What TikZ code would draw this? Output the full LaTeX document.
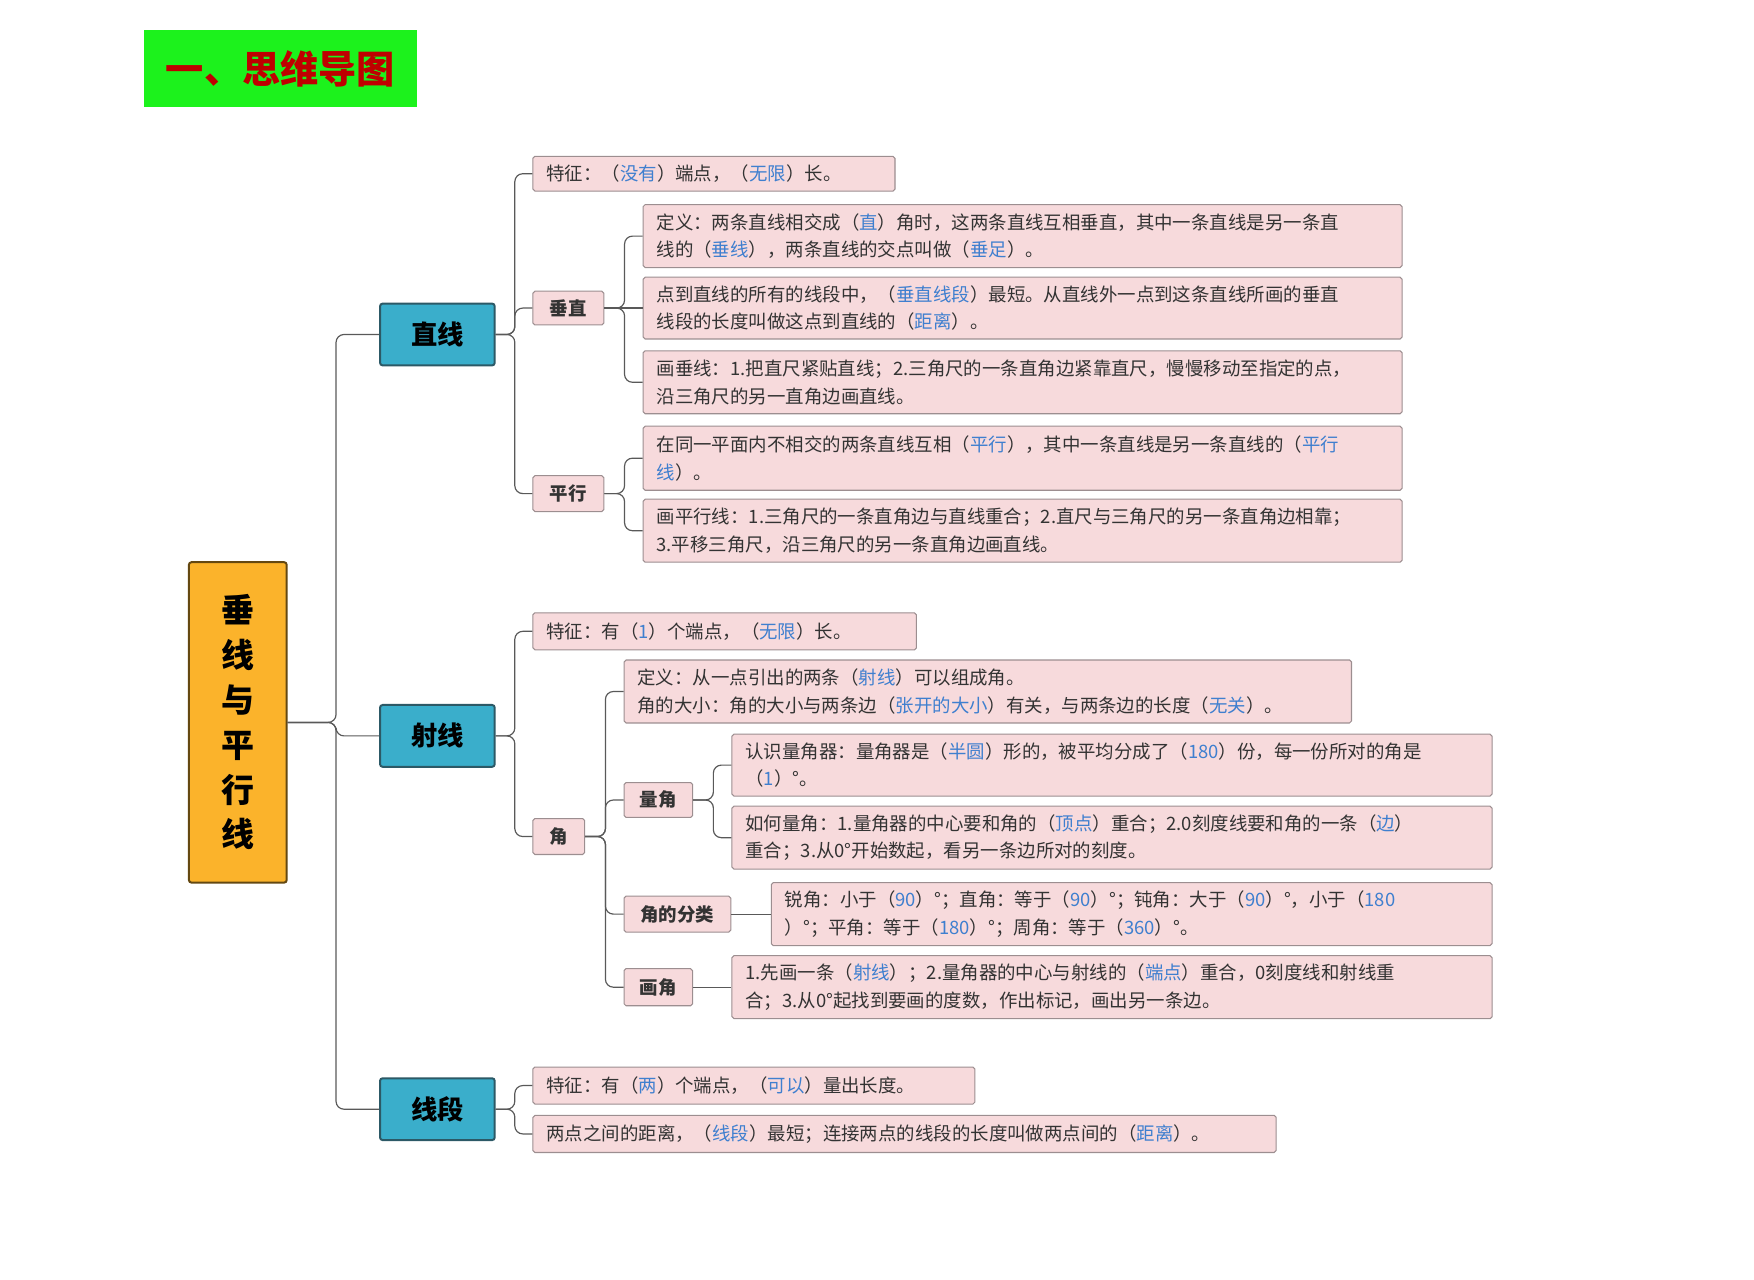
\documentclass[tikz,border=0pt]{standalone}
\usepackage{fontspec}
\setmainfont{Noto Sans CJK SC}
\usetikzlibrary{positioning}
\definecolor{hlblue}{HTML}{3F7FCF}
\definecolor{leafpink}{HTML}{F7DADC}
\definecolor{leafline}{HTML}{9C8E90}
\definecolor{teal}{HTML}{3AAECB}
\definecolor{tealline}{HTML}{2C5966}
\definecolor{orange}{HTML}{FBB32B}
\definecolor{titlegreen}{HTML}{1CF21C}
\newcommand{\hl}[1]{\textcolor{hlblue}{#1}}
\begin{document}
\begin{tikzpicture}[x=0.3mm,y=-0.3mm,
    conn/.style={draw=black!65,line width=0.9pt,rounded corners=6pt},
    leaf/.style={draw=leafline,fill=leafpink,line width=0.8pt,rounded corners=1.5pt,align=left,
      inner xsep=0.36cm,inner ysep=0pt,text=black!80,font=\fontsize{14}{21}\selectfont,text width=#1cm},
    small node/.style={draw=leafline,fill=leafpink,line width=0.8pt,rounded corners=1.5pt,
      inner sep=0pt,text=black!80,font=\fontsize{14}{16}\selectfont\bfseries},
    main node/.style={draw=tealline,fill=teal,line width=1.5pt,rounded corners=2pt,
      minimum width=102*0.3mm,minimum height=55*0.3mm,font=\fontsize{20}{22}\selectfont\bfseries}]
  \useasboundingbox (0,0) rectangle (1560,1138);
  % title
  \node[fill=titlegreen,minimum width=243*0.3mm,minimum height=68*0.3mm,inner sep=0pt,
    text=red!75!black,font=\fontsize{29}{30}\selectfont\bfseries] (title) at (249.5,61) {一、思维导图};
  % root
  \node[draw=black!60!orange,fill=orange,line width=1.5pt,rounded corners=2pt,inner sep=0pt,
    minimum width=87*0.3mm,minimum height=285*0.3mm,align=center,
    font=\fontsize{25}{34}\selectfont\bfseries] (root) at (211.5,642.5) {垂\\线\\与\\平\\行\\线};
  % first level
  \node[main node] (zhi) at (389,297.5) {直线};
  \node[main node] (she) at (389,654.5) {射线};
  \node[main node] (xd) at (389,986.5) {线段};
  % 直线
  \node[leaf=8.94,minimum height=31*0.3mm] (a1) at (635,154.5) {特征：（\hl{没有}）端点，（\hl{无限}）长。};
  \node[small node,minimum width=63*0.3mm,minimum height=30*0.3mm] (czh) at (505.5,274) {垂直};
  \node[small node,minimum width=63*0.3mm,minimum height=32*0.3mm] (px) at (505.5,439) {平行};
  \node[leaf=19.53,minimum height=56*0.3mm] (b1) at (909.5,210) {定义：两条直线相交成（\hl{直}）角时，这两条直线互相垂直，其中一条直线是另一条直\\线的（\hl{垂线}），两条直线的交点叫做（\hl{垂足}）。};
  \node[leaf=19.53,minimum height=55*0.3mm] (b2) at (909.5,274) {点到直线的所有的线段中，（\hl{垂直线段}）最短。从直线外一点到这条直线所画的垂直\\线段的长度叫做这点到直线的（\hl{距离}）。};
  \node[leaf=19.53,minimum height=56*0.3mm] (b3) at (909.5,340) {画垂线：1.把直尺紧贴直线；2.三角尺的一条直角边紧靠直尺，慢慢移动至指定的点，\\沿三角尺的另一直角边画直线。};
  \node[leaf=19.53,minimum height=57*0.3mm] (p1) at (909.5,407.5) {在同一平面内不相交的两条直线互相（\hl{平行}），其中一条直线是另一条直线的（\hl{平行}\\\hl{线}）。};
  \node[leaf=19.53,minimum height=56*0.3mm] (p2) at (909.5,472) {画平行线：1.三角尺的一条直角边与直线重合；2.直尺与三角尺的另一条直角边相靠；\\3.平移三角尺，沿三角尺的另一条直角边画直线。};
  % 射线
  \node[leaf=9.51,minimum height=33*0.3mm] (s1) at (644.5,561.5) {特征：有（\hl{1}）个端点，（\hl{无限}）长。};
  \node[small node,minimum width=46*0.3mm,minimum height=32*0.3mm] (jiao) at (497,744) {角};
  \node[leaf=18.69,minimum height=56*0.3mm] (d1) at (878.5,615) {定义：从一点引出的两条（\hl{射线}）可以组成角。\\角的大小：角的大小与两条边（\hl{张开的大小}）有关，与两条边的长度（\hl{无关}）。};
  \node[small node,minimum width=61*0.3mm,minimum height=31*0.3mm] (lj) at (585.5,711.5) {量角};
  \node[small node,minimum width=95*0.3mm,minimum height=32*0.3mm] (fl) at (602.5,813) {角的分类};
  \node[small node,minimum width=61*0.3mm,minimum height=33*0.3mm] (hj) at (585.5,878) {画角};
  \node[leaf=19.56,minimum height=55*0.3mm] (q1) at (989,680.5) {认识量角器：量角器是（\hl{半圆}）形的，被平均分成了（\hl{180}）份，每一份所对的角是\\（\hl{1}）°。};
  \node[leaf=19.56,minimum height=56*0.3mm] (q2) at (989,745) {如何量角：1.量角器的中心要和角的（\hl{顶点}）重合；2.0刻度线要和角的一条（\hl{边}）\\重合；3.从0°开始数起，看另一条边所对的刻度。};
  \node[leaf=18.51,minimum height=56*0.3mm] (f1) at (1006.5,813) {锐角：小于（\hl{90}）°；直角：等于（\hl{90}）°；钝角：大于（\hl{90}）°，小于（\hl{180}\\）°；平角：等于（\hl{180}）°；周角：等于（\hl{360}）°。};
  \node[leaf=19.56,minimum height=56*0.3mm] (h1) at (989,878) {1.先画一条（\hl{射线}）；2.量角器的中心与射线的（\hl{端点}）重合，0刻度线和射线重\\合；3.从0°起找到要画的度数，作出标记，画出另一条边。};
  % 线段
  \node[leaf=11.07,minimum height=33*0.3mm] (x1) at (670.5,965.5) {特征：有（\hl{两}）个端点，（\hl{可以}）量出长度。};
  \node[leaf=19.11,minimum height=33*0.3mm] (x2) at (804.5,1008.5) {两点之间的距离，（\hl{线段}）最短；连接两点的线段的长度叫做两点间的（\hl{距离}）。};
  % connectors
  \foreach \p/\c/\d in {root/zhi/43,root/she/43,root/xd/43,
      zhi/a1/17,zhi/czh/17,zhi/px/17,czh/b1/18,czh/b3/18,px/p1/18,px/p2/18,
      she/s1/17,she/jiao/17,jiao/d1/18,jiao/lj/18,jiao/fl/18,jiao/hj/18,
      lj/q1/18,lj/q2/18,xd/x1/17,xd/x2/17}
    \draw[conn] (\p.east) -- ++(\d,0) |- (\c.west);
  % straight ones
  \foreach \p/\c in {czh/b2,fl/f1,hj/h1}
    \draw[conn] (\p.east) -- (\c.west);
\end{tikzpicture}
\end{document}
